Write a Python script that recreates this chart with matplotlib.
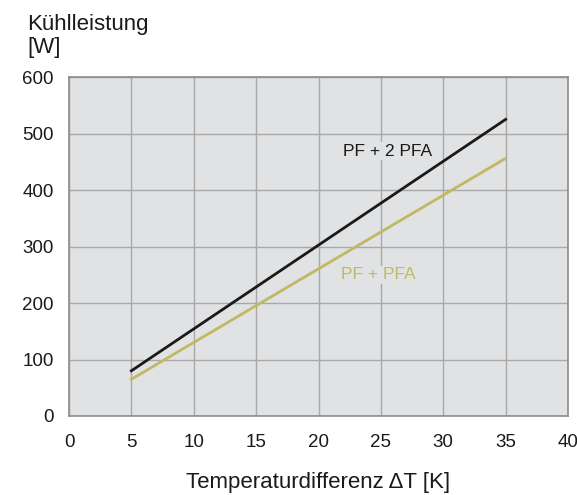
import matplotlib.pyplot as plt

plt.rcParams['font.family'] = ['Liberation Sans', 'DejaVu Sans']

# Kühlleistung über Temperaturdifferenz
delta_t = [5, 35]
pf_2pfa = [80, 525]
pf_pfa = [65, 456]

xticks = [0, 5, 10, 15, 20, 25, 30, 35, 40]
yticks = [0, 100, 200, 300, 400, 500, 600]

black = '#1a1a1a'
olive = '#c0b964'
bg = '#e1e2e4'
grid = '#a8a8a8'

fig = plt.figure(figsize=(5.77, 4.95), dpi=100)
ax = fig.add_axes([0.1196, 0.1596, 0.8648, 0.6848])
ax.set_facecolor(bg)

ax.plot(delta_t, pf_2pfa, color=black, lw=2, zorder=3)
ax.plot(delta_t, pf_pfa, color=olive, lw=2, zorder=3)

ax.text(25.5, 469, 'PF + 2 PFA', color=black, fontsize=12.5, ha='center', va='center',
        zorder=4, bbox=dict(facecolor=bg, edgecolor='none', pad=1))
ax.text(24.8, 250, 'PF + PFA', color=olive, fontsize=12.5, ha='center', va='center',
        zorder=4, bbox=dict(facecolor=bg, edgecolor='none', pad=1))

ax.set_xlim(0, 40)
ax.set_ylim(0, 600)
ax.set_xticks(xticks)
ax.set_yticks(yticks)
ax.grid(True, color=grid, lw=1)
ax.set_axisbelow(True)
ax.tick_params(length=0, labelsize=13.5, colors='#1a1a1a')
ax.tick_params(axis='x', pad=13)
ax.tick_params(axis='y', pad=11)
for s in ax.spines.values():
    s.set_color('#8c8c8c')
    s.set_linewidth(1.2)

ax.set_xlabel('Temperaturdifferenz \u0394T [K]', fontsize=16, labelpad=15, color='#1a1a1a')
fig.text(0.047, 0.972, 'Kühlleistung\n[W]', fontsize=16, ha='left', va='top',
         linespacing=1.15, color='#1a1a1a')

fig.savefig('out.png', dpi=100)
